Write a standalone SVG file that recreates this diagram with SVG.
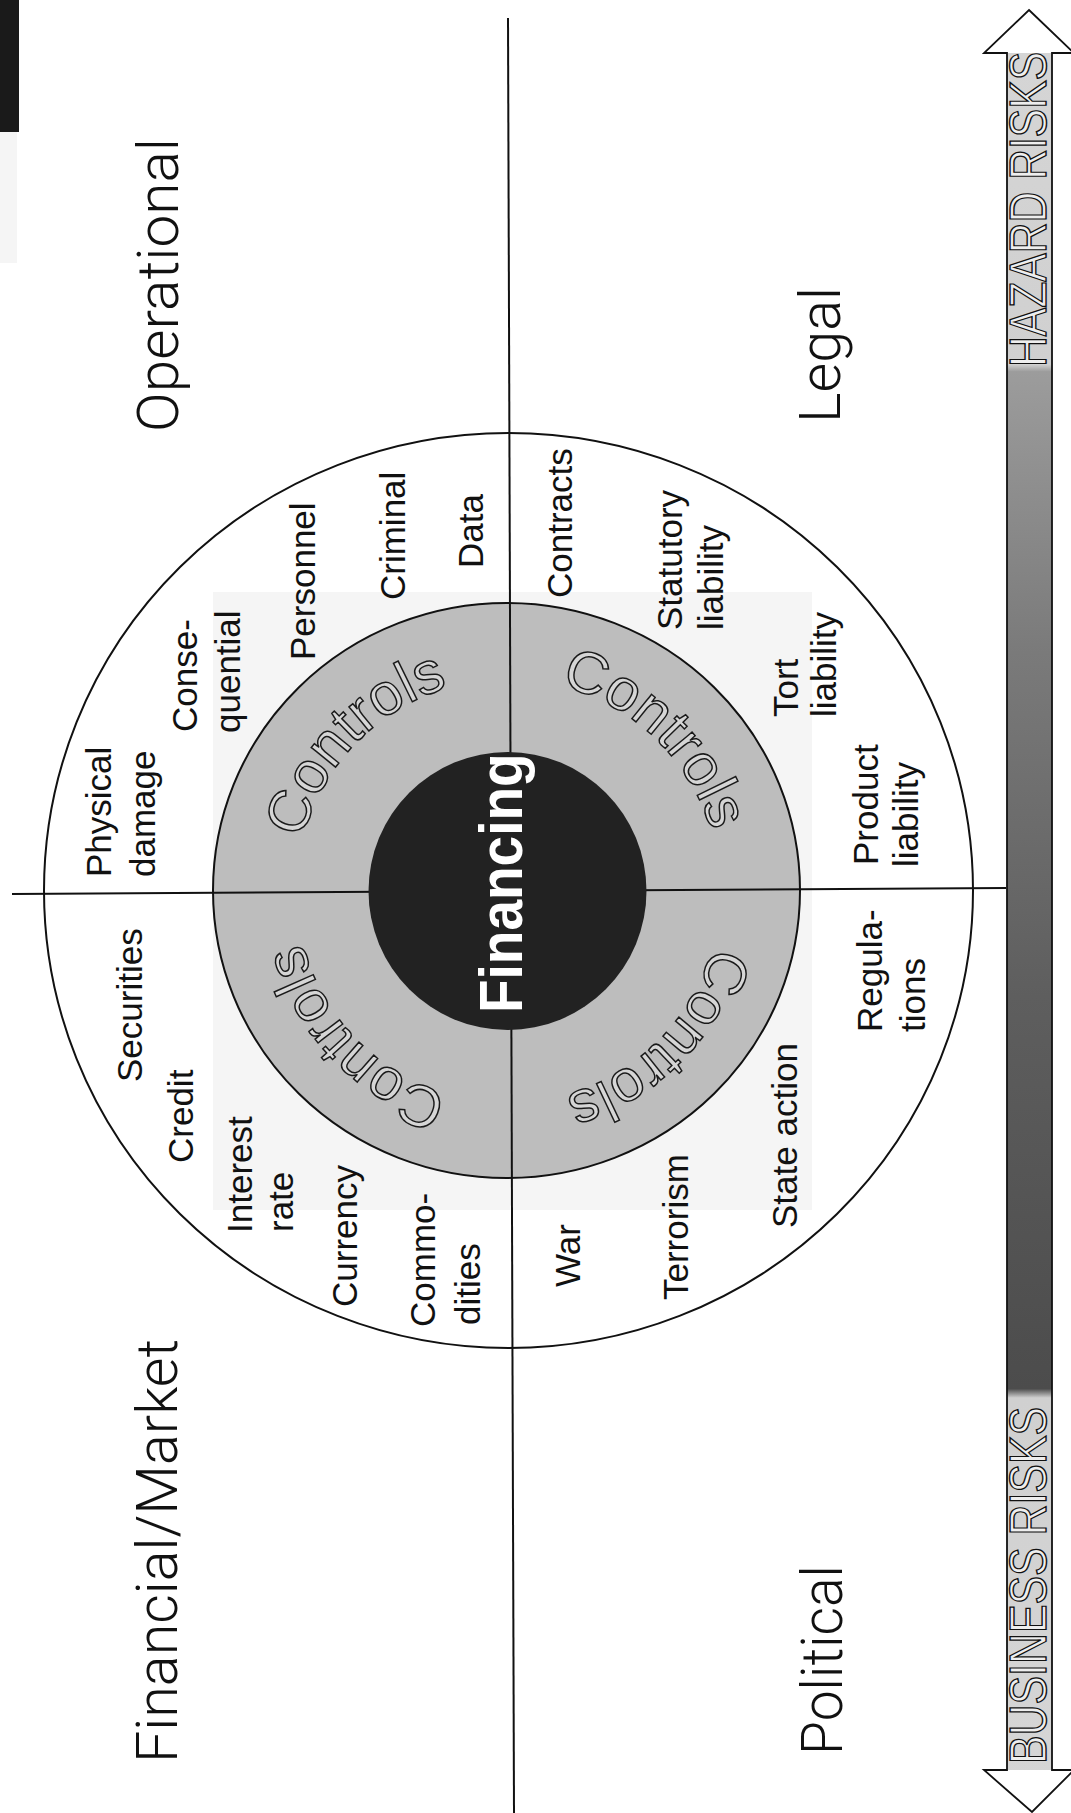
<svg xmlns="http://www.w3.org/2000/svg" width="1071" height="1813" viewBox="0 0 1071 1813">
<style>
.lbl{font-family:"Liberation Sans",Arial,sans-serif;font-size:35px;fill:#111}
.quad{font-family:Roboto,"Liberation Sans",sans-serif;font-weight:300;font-size:58px;fill:#111}
.ctl{font-family:"Liberation Sans",Arial,sans-serif;font-size:59px;fill:#d6d6d6;stroke:#1a1a1a;stroke-width:1.5}
.fin{font-family:"Liberation Sans",Arial,sans-serif;font-weight:bold;font-size:62px;fill:#fff}
.risk{font-family:"Liberation Sans",Arial,sans-serif;font-size:52px;fill:#eeeeee;stroke:#111;stroke-width:1.4}
.line{stroke:#111;stroke-width:2;fill:none}
</style>
<defs>
<linearGradient id="barGrad" gradientUnits="userSpaceOnUse" x1="0" y1="0" x2="0" y2="1813">
<stop offset="0" stop-color="#d6d6d6"/>
<stop offset="0.201" stop-color="#d0d0d0"/>
<stop offset="0.205" stop-color="#9c9c9c"/>
<stop offset="0.36" stop-color="#7a7a7a"/>
<stop offset="0.55" stop-color="#5e5e5e"/>
<stop offset="0.766" stop-color="#4c4c4c"/>
<stop offset="0.771" stop-color="#d0d0d0"/>
<stop offset="1" stop-color="#d6d6d6"/>
</linearGradient>
<path id="ctlArc" d="M 720 891 A 212 212 0 1 1 296 891 A 212 212 0 1 1 720 891"/>
</defs>
<rect width="1071" height="1813" fill="#fff"/>
<rect x="0" y="0" width="19" height="132" fill="#1a1a1a"/>
<rect x="0" y="132" width="17" height="131" fill="#f5f5f5"/>

<g id="outer-circle">
<ellipse cx="508.5" cy="890.5" rx="464.5" ry="457.5" fill="#fff" stroke="#111" stroke-width="2"/>
<rect x="213" y="592" width="599" height="618" fill="#f5f5f5"/>
</g>

<g id="controls-ring">
<ellipse cx="506.5" cy="890.5" rx="293.5" ry="287.5" fill="#bdbdbd" stroke="#111" stroke-width="2"/>
</g>

<g id="dividers">
<line class="line" x1="508" y1="18" x2="514" y2="1813"/>
<line class="line" x1="12" y1="894" x2="1006" y2="888"/>
</g>

<g id="controls-labels">
<text class="ctl" text-anchor="middle"><textPath href="#ctlArc" startOffset="12.4%">Controls</textPath></text>
<text class="ctl" text-anchor="middle"><textPath href="#ctlArc" startOffset="37.8%">Controls</textPath></text>
<text class="ctl" text-anchor="middle"><textPath href="#ctlArc" startOffset="62.2%">Controls</textPath></text>
<text class="ctl" text-anchor="middle"><textPath href="#ctlArc" startOffset="87.2%">Controls</textPath></text>
</g>

<g id="financing">
<circle cx="507.5" cy="891" r="139" fill="#222"/>
<text class="fin" transform="translate(522,1013) rotate(-90) scale(0.887,1)">Financing</text>
</g>

<g id="quadrant-labels">
<text class="quad" transform="translate(178,432) rotate(-90)" textLength="294" lengthAdjust="spacingAndGlyphs">Operational</text>
<text class="quad" transform="translate(840,423) rotate(-90)" textLength="136" lengthAdjust="spacingAndGlyphs">Legal</text>
<text class="quad" transform="translate(177,1763) rotate(-90)" textLength="424" lengthAdjust="spacingAndGlyphs">Financial/Market</text>
<text class="quad" transform="translate(842,1755) rotate(-90)" textLength="190" lengthAdjust="spacingAndGlyphs">Political</text>
</g>

<g id="operational-items">
<text class="lbl" transform="translate(111,877) rotate(-90)">Physical</text>
<text class="lbl" transform="translate(155,877) rotate(-90)">damage</text>
<text class="lbl" transform="translate(197,732) rotate(-90)">Conse-</text>
<text class="lbl" transform="translate(240,733) rotate(-90)">quential</text>
<text class="lbl" transform="translate(315,660) rotate(-90)">Personnel</text>
<text class="lbl" transform="translate(405,600) rotate(-90)">Criminal</text>
<text class="lbl" transform="translate(483,568) rotate(-90)">Data</text>
</g>

<g id="financial-items">
<text class="lbl" transform="translate(142,1082) rotate(-90)">Securities</text>
<text class="lbl" transform="translate(193,1163) rotate(-90)">Credit</text>
<text class="lbl" transform="translate(252,1233) rotate(-90)">Interest</text>
<text class="lbl" transform="translate(293,1232) rotate(-90)">rate</text>
<text class="lbl" transform="translate(357,1307) rotate(-90)">Currency</text>
<text class="lbl" transform="translate(435,1327) rotate(-90)">Commo-</text>
<text class="lbl" transform="translate(480,1325) rotate(-90)">dities</text>
</g>

<g id="legal-items">
<text class="lbl" transform="translate(572,598) rotate(-90)">Contracts</text>
<text class="lbl" transform="translate(682,630) rotate(-90)">Statutory</text>
<text class="lbl" transform="translate(723,630) rotate(-90)">liability</text>
<text class="lbl" transform="translate(798,717) rotate(-90)">Tort</text>
<text class="lbl" transform="translate(836,717) rotate(-90)">liability</text>
<text class="lbl" transform="translate(878,865) rotate(-90)">Product</text>
<text class="lbl" transform="translate(918,867) rotate(-90)">liability</text>
</g>

<g id="political-items">
<text class="lbl" transform="translate(882,1032) rotate(-90)">Regula-</text>
<text class="lbl" transform="translate(925,1032) rotate(-90)">tions</text>
<text class="lbl" transform="translate(797,1228) rotate(-90)">State action</text>
<text class="lbl" transform="translate(688,1300) rotate(-90)">Terrorism</text>
<text class="lbl" transform="translate(580,1287) rotate(-90)">War</text>
</g>

<g id="risk-arrow">
<polygon points="1029,10 1074,53 1052,53 1052,1770 1074,1770 1032,1812 984,1770 1007,1770 1007,53 984,53" fill="#fff"/>
<rect x="1007" y="53" width="45" height="1717" fill="url(#barGrad)"/>
<polygon points="1029,10 1074,53 1052,53 1052,1770 1074,1770 1032,1812 984,1770 1007,1770 1007,53 984,53" fill="none" stroke="#111" stroke-width="1.8" stroke-linejoin="miter"/>
<text class="risk" transform="translate(1046,367) rotate(-90) scale(0.82,1)">HAZARD RISKS</text>
<text class="risk" transform="translate(1046,1764) rotate(-90) scale(0.824,1)">BUSINESS RISKS</text>
</g>
</svg>
